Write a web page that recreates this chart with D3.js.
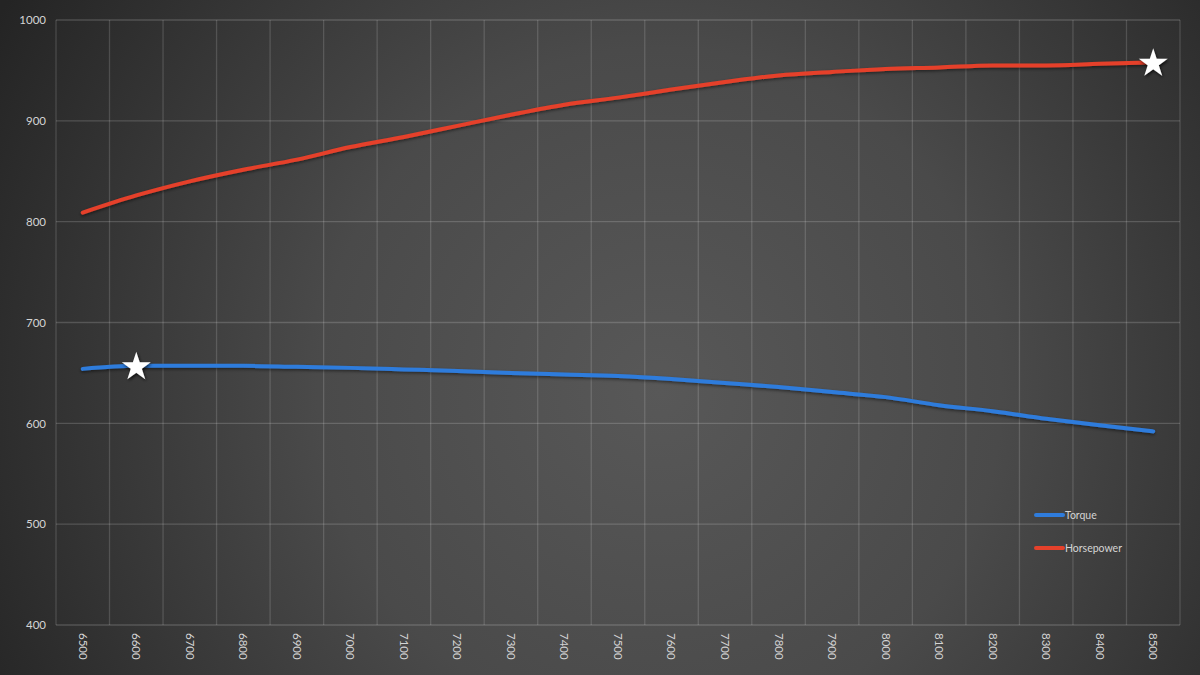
<!DOCTYPE html>
<html>
<head>
<meta charset="utf-8">
<script src="https://cdn.jsdelivr.net/npm/d3@7"></script>
<style>
  html, body { margin: 0; padding: 0; background: #333; }
  svg { display: block; }
</style>
</head>
<body>
<svg id="chart" width="1200" height="675"></svg>
<script>
const categories = ["6500","6600","6700","6800","6900","7000","7100","7200","7300","7400","7500","7600","7700","7800","7900","8000","8100","8200","8300","8400","8500"];
const torque = [654, 657, 657, 657, 656, 655, 653.5, 652, 650, 648.5, 647, 644, 640, 636, 631, 626, 618, 612, 604.5, 598, 592];
const horsepower = [809, 826, 840, 851.5, 861.5, 874, 884, 895, 906, 916, 923, 931, 938.5, 945, 948.5, 951.5, 953, 955, 955, 956.5, 958];
const yTicks = [400, 500, 600, 700, 800, 900, 1000];
const seriesNames = ["Torque", "Horsepower"];
const seriesColors = ["#2f7cdc", "#e5412b"];
const peakTorqueIdx = 1;
const peakHpIdx = 20;

const W = 1200, H = 675;
const m = { left: 56, right: 20, top: 20, bottom: 50 };
const svg = d3.select("#chart");
const defs = svg.append("defs");

const grad = defs.append("radialGradient").attr("id", "bg")
  .attr("gradientUnits", "userSpaceOnUse")
  .attr("cx", 660).attr("cy", 390).attr("r", 760);
grad.append("stop").attr("offset", "0%").attr("stop-color", "#585858");
grad.append("stop").attr("offset", "45%").attr("stop-color", "#4a4a4a");
grad.append("stop").attr("offset", "100%").attr("stop-color", "#242424");

const f = defs.append("filter").attr("id", "shadow").attr("x", "-50%").attr("y", "-50%").attr("width", "200%").attr("height", "200%");
f.append("feDropShadow").attr("dx", 1).attr("dy", 1.5).attr("stdDeviation", 1.5).attr("flood-color", "#000").attr("flood-opacity", 0.8);

const lf = defs.append("filter").attr("id", "lshadow").attr("x", "-10%").attr("y", "-10%").attr("width", "120%").attr("height", "120%");
lf.append("feDropShadow").attr("dx", 0).attr("dy", 1.5).attr("stdDeviation", 1.5).attr("flood-color", "#000").attr("flood-opacity", 0.5);

svg.append("rect").attr("width", W).attr("height", H).attr("fill", "url(#bg)");

const x = d3.scaleBand().domain(categories).range([m.left, W - m.right]).paddingInner(0).paddingOuter(0);
const y = d3.scaleLinear().domain([400, 1000]).range([H - m.bottom, m.top]);
const cx = c => x(c) + x.bandwidth() / 2;

// gridlines
const grid = svg.append("g");
grid.selectAll("line.h").data(yTicks).join("line")
  .attr("x1", m.left).attr("x2", W - m.right)
  .attr("y1", d => y(d)).attr("y2", d => y(d))
  .attr("stroke", "rgba(255,255,255,0.17)").attr("stroke-width", 1.3);
const vEdges = categories.map(c => x(c)).concat([W - m.right]);
grid.selectAll("line.v").data(vEdges).join("line")
  .attr("x1", d => d).attr("x2", d => d)
  .attr("y1", m.top).attr("y2", H - m.bottom)
  .attr("stroke", "rgba(255,255,255,0.15)").attr("stroke-width", 1.3);

// y axis
const yAxis = svg.append("g").attr("transform", `translate(${m.left - 10},0)`)
  .call(d3.axisLeft(y).tickValues(yTicks).tickSize(0).tickPadding(0).tickFormat(d3.format("d")));
yAxis.select(".domain").remove();
yAxis.selectAll("text").attr("fill", "#d4d4d4").style("font-family", "Lato, 'Open Sans', sans-serif").style("font-size", "11.5px");

// x axis
const xAxis = svg.append("g").attr("transform", `translate(0,${H - m.bottom})`)
  .call(d3.axisBottom(x).tickSize(0).tickPadding(0));
xAxis.select(".domain").remove();
xAxis.selectAll("text")
  .attr("fill", "#d4d4d4")
  .style("font-family", "Lato, 'Open Sans', sans-serif").style("font-size", "11.5px")
  .attr("text-anchor", "start").attr("dy", "0.35em").attr("y", 0).attr("x", 0)
  .attr("transform", "translate(0,8) rotate(90)");

// lines
const line = d3.line().x((d, i) => cx(categories[i])).y(d => y(d)).curve(d3.curveMonotoneX);
[torque, horsepower].forEach((s, k) => {
  svg.append("path").datum(s)
    .attr("d", line).attr("fill", "none")
    .attr("stroke", seriesColors[k]).attr("stroke-width", 4)
    .attr("stroke-linecap", "round").attr("stroke-linejoin", "round")
    .attr("filter", "url(#lshadow)");
});

// stars
const star = d3.symbol().type(d3.symbolStar).size(260);
const peaks = [[categories[peakTorqueIdx], torque[peakTorqueIdx]], [categories[peakHpIdx], horsepower[peakHpIdx]]];
svg.selectAll("path.star").data(peaks).join("path")
  .attr("class", "star").attr("d", star)
  .attr("transform", d => `translate(${cx(d[0])},${y(d[1]) + 1})`)
  .attr("fill", "#ffffff").attr("filter", "url(#shadow)");

// legend
const lg = svg.append("g").attr("transform", "translate(1036,515)");
seriesNames.forEach((n, i) => {
  const g = lg.append("g").attr("transform", `translate(0,${i * 33})`);
  g.append("line").attr("x1", 0).attr("x2", 27).attr("y1", 0).attr("y2", 0)
    .attr("stroke", seriesColors[i]).attr("stroke-width", 4).attr("stroke-linecap", "round");
  g.append("text").attr("x", 29).attr("y", 0).attr("dy", "0.35em")
    .attr("fill", "#d4d4d4").style("font-family", "Lato, 'Open Sans', sans-serif").style("font-size", "10.5px")
    .text(n);
});
</script>
</body>
</html>
